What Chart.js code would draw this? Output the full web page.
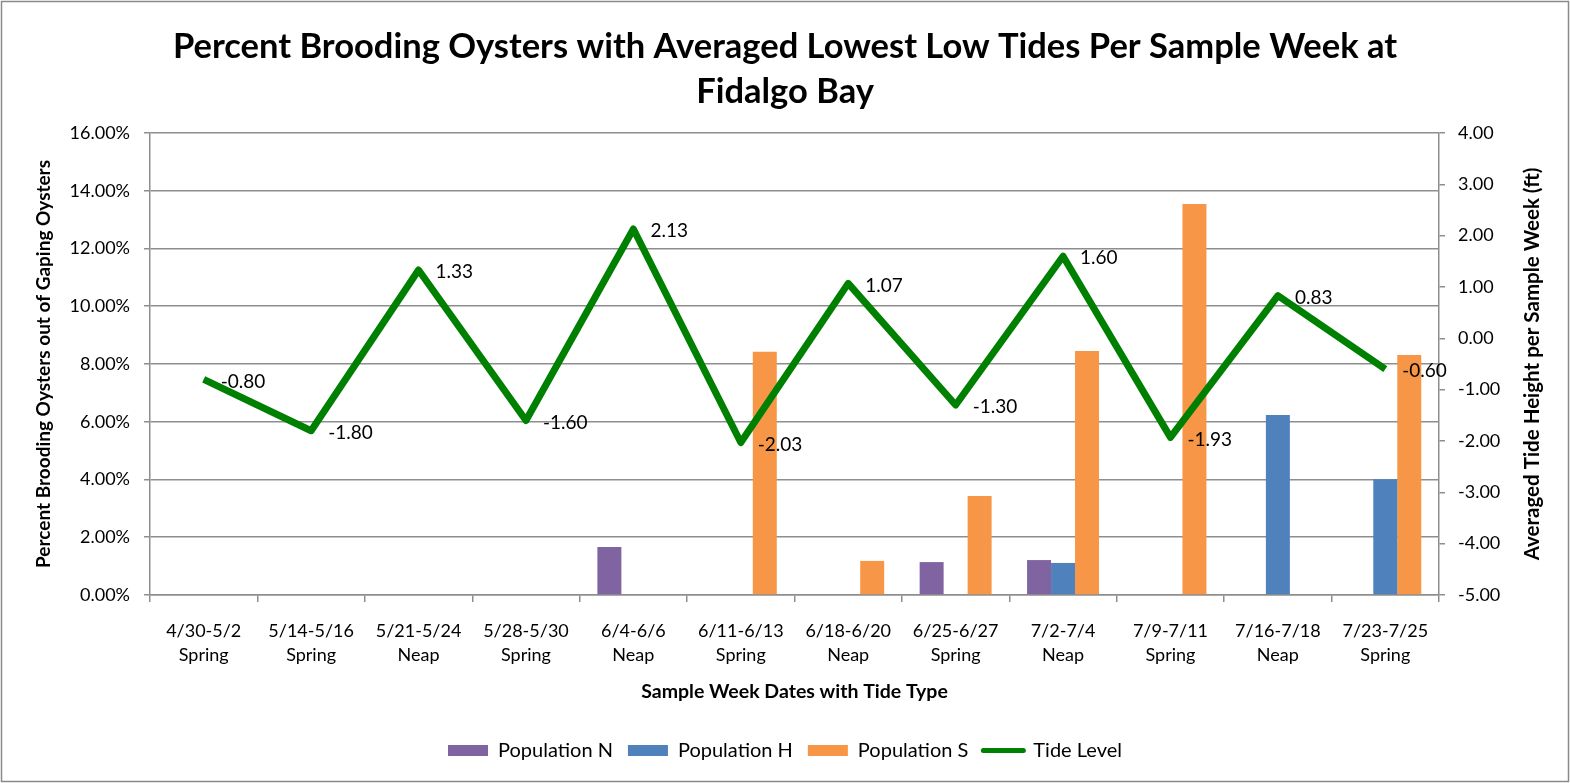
<!DOCTYPE html>
<html>
<head>
<meta charset="utf-8">
<script src="https://cdn.jsdelivr.net/npm/chart.js@4.4.0/dist/chart.umd.min.js"></script>
<style>
  html, body { margin: 0; padding: 0; background: #fff; }
  #wrap { width: 1570px; height: 783px; }
</style>
</head>
<body>
<div id="wrap"><canvas id="chart" width="1570" height="783"></canvas></div>
<script>
// Sample weeks and tide type (x-axis)
const weeks = ['4/30-5/2', '5/14-5/16', '5/21-5/24', '5/28-5/30', '6/4-6/6', '6/11-6/13',
               '6/18-6/20', '6/25-6/27', '7/2-7/4', '7/9-7/11', '7/16-7/18', '7/23-7/25'];
const tideTypes = ['Spring', 'Spring', 'Neap', 'Spring', 'Neap', 'Spring',
                   'Neap', 'Spring', 'Neap', 'Spring', 'Neap', 'Spring'];

// Percent brooding (left axis, %)
const popN = [null, null, null, null, 1.66, null, null, 1.14, 1.21, null, null, null];
const popH = [null, null, null, null, null, null, null, null, 1.11, null, 6.23, 4.01];
const popS = [null, null, null, null, null, 8.42, 1.18, 3.43, 8.45, 13.54, null, 8.31];

// Averaged lowest low tide (right axis, ft)
const tideLevel = [-0.80, -1.80, 1.33, -1.60, 2.13, -2.03, 1.07, -1.30, 1.60, -1.93, 0.83, -0.60];

// Axis ranges
const pctMin = 0, pctMax = 16, pctStep = 2;
const tideMin = -5, tideMax = 4, tideStep = 1;

const FONT = 'Lato';
const GRID = '#8e8e8e';

const extras = {
  id: 'extras',
  beforeDraw(chart) {
    const ctx = chart.ctx;
    ctx.save();
    ctx.fillStyle = '#fff';
    ctx.fillRect(0, 0, chart.width, chart.height);
    ctx.restore();
  },
  afterDatasetsDraw(chart) {
    // value labels next to each tide point
    const ctx = chart.ctx;
    const meta = chart.getDatasetMeta(3);
    ctx.save();
    ctx.font = '19px ' + FONT;
    ctx.fillStyle = '#000';
    ctx.textAlign = 'left';
    ctx.textBaseline = 'middle';
    meta.data.forEach((pt, i) => {
      ctx.fillText(tideLevel[i].toFixed(2), pt.x + 17, pt.y + 2);
    });
    ctx.restore();
  },
  afterDraw(chart) {
    const ctx = chart.ctx;
    const area = chart.chartArea;
    ctx.save();
    // right axis title, reading bottom to top
    ctx.translate(1532, (area.top + area.bottom) / 2);
    ctx.rotate(-Math.PI / 2);
    ctx.font = 'bold 20.5px ' + FONT;
    ctx.fillStyle = '#000';
    ctx.textAlign = 'center';
    ctx.textBaseline = 'middle';
    ctx.fillText('Averaged Tide Height per Sample Week (ft)', 0, 0);
    ctx.restore();
    // outer frame
    ctx.save();
    ctx.strokeStyle = '#8a8a8a';
    ctx.lineWidth = 1.5;
    ctx.strokeRect(1.5, 1.5, chart.width - 3, chart.height - 3);
    ctx.restore();
  }
};

const ctx = document.getElementById('chart').getContext('2d');
new Chart(ctx, {
  type: 'bar',
  data: {
    labels: weeks.map((w, i) => [w, tideTypes[i]]),
    datasets: [
      { label: 'Population N', data: popN, backgroundColor: '#8064A2', yAxisID: 'y', order: 1, pointStyle: 'rect' },
      { label: 'Population H', data: popH, backgroundColor: '#4F81BD', yAxisID: 'y', order: 1, pointStyle: 'rect' },
      { label: 'Population S', data: popS, backgroundColor: '#F79646', yAxisID: 'y', order: 1, pointStyle: 'rect' },
      {
        type: 'line', label: 'Tide Level', data: tideLevel, yAxisID: 'y2', order: 0,
        borderColor: '#008000', backgroundColor: '#008000', borderWidth: 7,
        borderJoinStyle: 'round', pointRadius: 0, pointHoverRadius: 0, tension: 0,
        pointStyle: 'line', fill: false
      }
    ]
  },
  options: {
    responsive: false,
    animation: false,
    layout: { padding: { left: 0, right: 0, top: 0, bottom: 12.5 } },
    datasets: { bar: { categoryPercentage: 0.67, barPercentage: 1.0 } },
    plugins: {
      tooltip: { enabled: false },
      title: {
        display: true,
        text: ['Percent Brooding Oysters with Averaged Lowest Low Tides Per Sample Week at', 'Fidalgo Bay'],
        font: { family: FONT, size: 34.5, weight: 'bold', lineHeight: 1.304 },
        color: '#000',
        padding: { top: 24.5, bottom: 18.5 }
      },
      legend: {
        position: 'bottom',
        labels: {
          usePointStyle: true,
          pointStyleWidth: 40,
          boxHeight: 11,
          padding: 15,
          color: '#000',
          font: { family: FONT, size: 20 },
          sort: (a, b) => a.datasetIndex - b.datasetIndex,
          generateLabels(chart) {
            const items = Chart.defaults.plugins.legend.labels.generateLabels(chart);
            items.forEach(it => {
              if (it.datasetIndex === 3) { it.lineWidth = 5; it.lineCap = 'round'; }
            });
            return items;
          }
        }
      }
    },
    scales: {
      x: {
        grid: { drawOnChartArea: false, tickLength: 7, color: GRID, lineWidth: 1.5, offset: true },
        border: { color: GRID, width: 1.5 },
        ticks: { font: { family: FONT, size: 18, lineHeight: 1.33 }, color: '#000', padding: 17, maxRotation: 0, autoSkip: false },
        title: {
          display: true, text: 'Sample Week Dates with Tide Type', color: '#000',
          font: { family: FONT, size: 19.5, weight: 'bold', lineHeight: 1.2 },
          padding: { top: 0, bottom: 22 }
        },
        afterFit(s) { s.height = 130.5; }
      },
      y: {
        position: 'left', min: pctMin, max: pctMax,
        ticks: { stepSize: pctStep, callback: v => v.toFixed(2) + '%', font: { family: FONT, size: 18 }, color: '#000', padding: 14 },
        grid: { color: GRID, lineWidth: 1.5, tickLength: 6 },
        border: { color: GRID, width: 1.5 },
        title: {
          display: true, text: 'Percent Brooding Oysters out of Gaping Oysters', color: '#000',
          font: { family: FONT, size: 19, weight: 'bold', lineHeight: 1.2 },
          padding: { top: 32, bottom: 0 }
        },
        afterFit(s) { s.width = 150; }
      },
      y2: {
        position: 'right', min: tideMin, max: tideMax,
        ticks: { stepSize: tideStep, callback: v => v.toFixed(2), font: { family: FONT, size: 18 }, color: '#000', padding: 13 },
        grid: { drawOnChartArea: false, color: GRID, lineWidth: 1.5, tickLength: 6 },
        border: { color: GRID, width: 1.5 },
        afterFit(s) { s.width = 131; }
      }
    }
  },
  plugins: [extras]
});
</script>
</body>
</html>
